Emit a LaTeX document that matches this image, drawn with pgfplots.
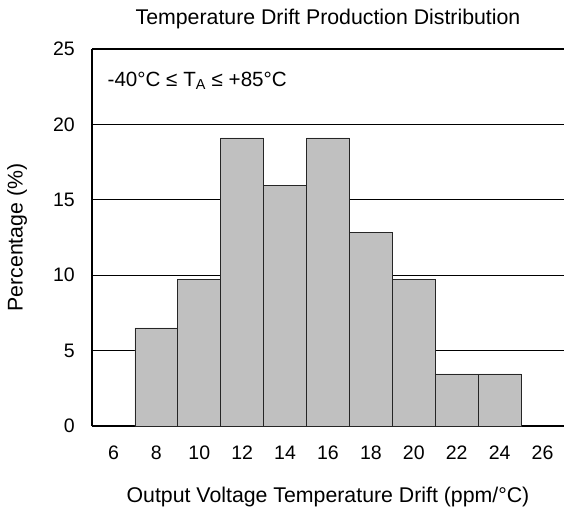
\documentclass[border=0pt]{standalone}
\usepackage{fontspec}
\setmainfont{Liberation Sans}
\usepackage{pgfplots}
\pgfplotsset{compat=1.18}
\definecolor{barfill}{HTML}{C0C0C0}
\begin{document}
\begin{tikzpicture}
\begin{axis}[
  name=ax,
  scale only axis,
  width=472pt, height=377pt,
  xmin=5, xmax=27, ymin=0, ymax=25,
  xtick={6,8,...,26},
  ytick={0,5,...,25},
  major tick length=0pt,
  axis x line=box,
  axis y line=left,
  x axis line style={-, line width=1.6pt},
  y axis line style={-, line width=1.6pt},
  ymajorgrids,
  grid style={black, line width=0.8pt},
  font=\fontsize{19.5}{23}\selectfont,
  /pgf/number format/assume math mode=true,
  xticklabel style={anchor=base, yshift=-33pt, inner sep=0pt},
  yticklabel style={anchor=east, xshift=-17pt, inner sep=0pt},
  title={Temperature Drift Production Distribution},
  title style={at={(0.5,1)}, anchor=base, yshift=18pt, inner sep=0pt, font=\fontsize{21.3}{25}\selectfont},
  xlabel={Output Voltage Temperature Drift (ppm/°C)},
  xlabel style={at={(0.5,0)}, anchor=base, yshift=-76pt, inner sep=0pt, font=\fontsize{21.3}{25}\selectfont},
  ylabel={Percentage (\%)},
  ylabel style={at={(axis description cs:-0.1589,0.5)}, anchor=center, inner sep=0pt, font=\fontsize{21.3}{25}\selectfont},
  clip=false,
]
\addplot[ybar interval, fill=barfill, draw=black!85, line width=0.8pt]
  coordinates {(7,6.5) (9,9.7) (11,19.1) (13,15.95) (15,19.1) (17,12.85) (19,9.7) (21,3.45) (23,3.45) (25,3.45)};
\node[anchor=west, inner sep=0pt, font=\fontsize{20.6}{24}\selectfont] at (axis cs:5.72,22.9) {-40°C ≤ T\textsubscript{A} ≤ +85°C};
\end{axis}
\pgfresetboundingbox
\useasboundingbox ([xshift=-92pt,yshift=-88pt]ax.south west) rectangle ([yshift=49pt]ax.north east);
\end{tikzpicture}
\end{document}
